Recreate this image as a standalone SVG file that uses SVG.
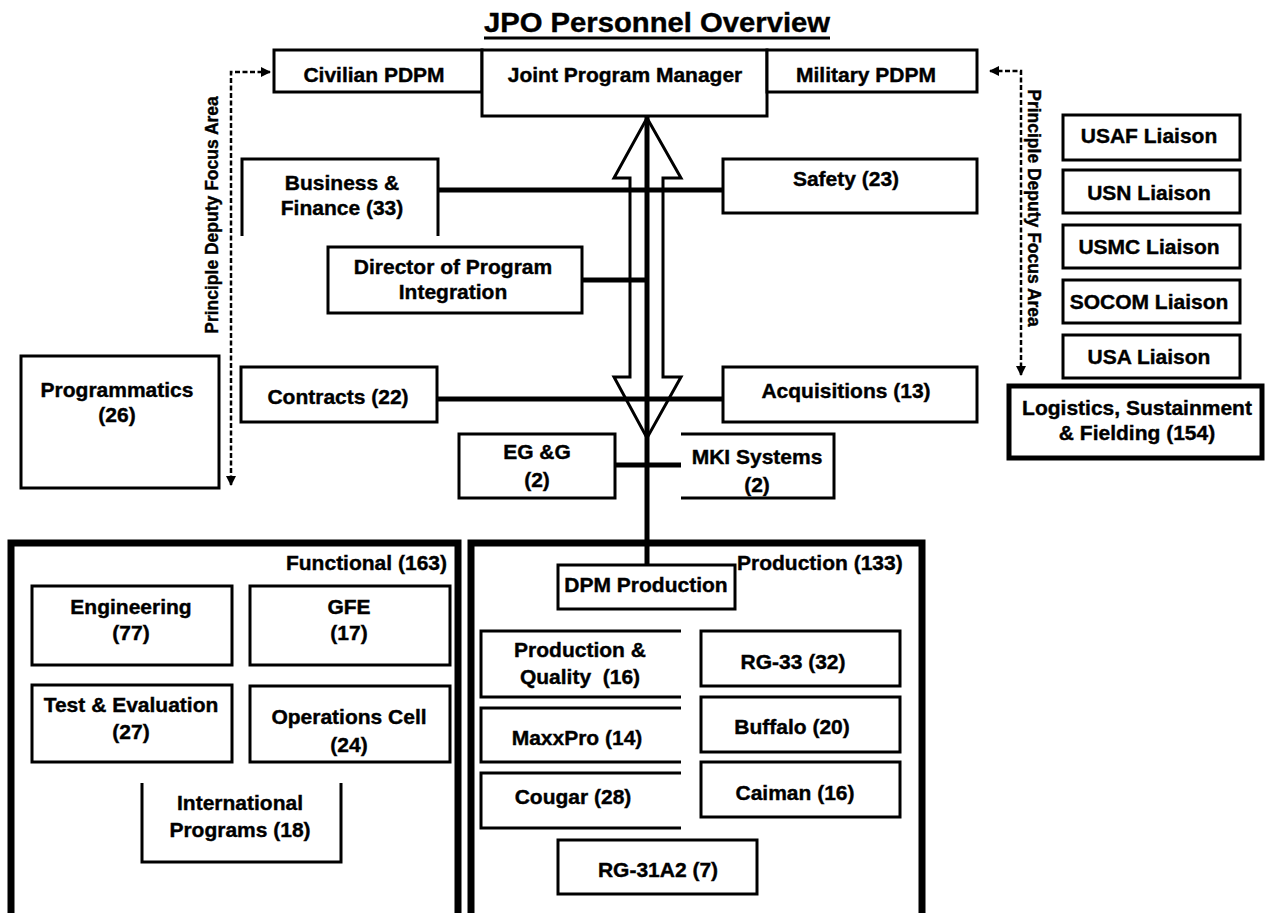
<svg xmlns="http://www.w3.org/2000/svg" width="1266" height="913" viewBox="0 0 1266 913">
<style>
.box{fill:#fff;stroke:#000;stroke-width:3}
.open{fill:none;stroke:#000;stroke-width:3}
.thick{fill:none;stroke:#000;stroke-width:7}
.conn{fill:none;stroke:#000;stroke-width:5}
.dash{fill:none;stroke:#000;stroke-width:2.5;stroke-dasharray:5 2.5}
.t{font-family:"Liberation Sans",Arial,sans-serif;font-weight:bold;font-size:21px;text-anchor:middle;fill:#000;stroke:#000;stroke-width:0.4}
.s{font-size:17.5px}
</style>
<defs>
<marker id="ah" viewBox="0 0 10 10" refX="9" refY="5" markerWidth="4" markerHeight="4" orient="auto-start-reverse" markerUnits="strokeWidth">
<path d="M0,0 L10,5 L0,10 z" fill="#000"/>
</marker>
</defs>
<rect width="1266" height="913" fill="#fff"/>

<g id="title">
<text class="t" x="657" y="32" textLength="346" lengthAdjust="spacingAndGlyphs" style="font-size:28px">JPO Personnel Overview</text>
<line x1="484" y1="38" x2="830" y2="38" stroke="#000" stroke-width="3"/>
</g>

<g id="connectors">
<line class="conn" x1="647" y1="116" x2="647" y2="566"/>
<line class="conn" x1="438" y1="190" x2="723" y2="190"/>
<line class="conn" x1="582" y1="280" x2="647" y2="280"/>
<line class="conn" x1="437" y1="399" x2="723" y2="399"/>
<line class="conn" x1="615" y1="465" x2="681" y2="465"/>
<polygon points="647,118 681,178 663,178 663,377 681,377 647,438 614,377 630,377 630,178 614,178" fill="none" stroke="#000" stroke-width="3"/>
<path class="dash" d="M270,72 H231 V485" marker-start="url(#ah)" marker-end="url(#ah)"/>
<path class="dash" d="M990,71 H1021 V375" marker-start="url(#ah)" marker-end="url(#ah)"/>
</g>

<g id="focus-left"><text class="t s" transform="translate(218,215) rotate(-90)">Principle Deputy Focus Area</text></g>
<g id="focus-right"><text class="t s" transform="translate(1028,208) rotate(90)">Principle Deputy Focus Area</text></g>

<g id="civilian"><rect class="box" x="274" y="50" width="208" height="42"/><text class="t" x="374" y="82">Civilian PDPM</text></g>
<g id="jpm"><rect class="box" x="482" y="50" width="285" height="66"/><text class="t" x="625" y="82">Joint Program Manager</text></g>
<g id="military"><rect class="box" x="767" y="50" width="210" height="42"/><text class="t" x="866" y="82">Military PDPM</text></g>

<g id="business"><path class="open" d="M242,236 V159 H438 V236"/><text class="t" x="342" y="190">Business &amp;</text><text class="t" x="342" y="215">Finance (33)</text></g>
<g id="safety"><rect class="box" x="723" y="159" width="254" height="54"/><text class="t" x="846" y="186">Safety (23)</text></g>
<g id="director"><rect class="box" x="328" y="247" width="254" height="66"/><text class="t" x="453" y="274">Director of Program</text><text class="t" x="453" y="299">Integration</text></g>
<g id="programmatics"><rect class="box" x="21" y="356" width="198" height="132"/><text class="t" x="117" y="397">Programmatics</text><text class="t" x="117" y="422">(26)</text></g>
<g id="contracts"><rect class="box" x="241" y="367" width="196" height="55"/><text class="t" x="338" y="404">Contracts (22)</text></g>
<g id="acquisitions"><rect class="box" x="723" y="367" width="254" height="55"/><text class="t" x="846" y="398">Acquisitions (13)</text></g>
<g id="egg"><rect class="box" x="459" y="434" width="156" height="64"/><text class="t" x="537" y="459">EG &amp;G</text><text class="t" x="537" y="487">(2)</text></g>
<g id="mki"><path class="open" d="M681,434 H834 V498 H681"/><text class="t" x="757" y="464">MKI Systems</text><text class="t" x="757" y="492">(2)</text></g>

<g id="usaf"><rect class="box" x="1063" y="115" width="177" height="45"/><text class="t" x="1149" y="143">USAF Liaison</text></g>
<g id="usn"><rect class="box" x="1063" y="170" width="177" height="43"/><text class="t" x="1149" y="200">USN Liaison</text></g>
<g id="usmc"><rect class="box" x="1063" y="225" width="177" height="43"/><text class="t" x="1149" y="254">USMC Liaison</text></g>
<g id="socom"><rect class="box" x="1063" y="280" width="177" height="43"/><text class="t" x="1149" y="309">SOCOM Liaison</text></g>
<g id="usa"><rect class="box" x="1063" y="335" width="177" height="43"/><text class="t" x="1149" y="364">USA Liaison</text></g>
<g id="logistics"><rect x="1009" y="386" width="253" height="72" fill="#fff" stroke="#000" stroke-width="5"/><text class="t" x="1137" y="415">Logistics, Sustainment</text><text class="t" x="1137" y="440">&amp; Fielding (154)</text></g>

<g id="functional"><path class="thick" d="M11,920 V543 H458 V920"/><text class="t" x="447" y="570" style="text-anchor:end">Functional (163)</text></g>
<g id="engineering"><rect class="box" x="32" y="586" width="200" height="79"/><text class="t" x="131" y="614">Engineering</text><text class="t" x="131" y="640">(77)</text></g>
<g id="gfe"><rect class="box" x="250" y="586" width="200" height="79"/><text class="t" x="349" y="614">GFE</text><text class="t" x="349" y="640">(17)</text></g>
<g id="test-eval"><rect class="box" x="32" y="685" width="200" height="77"/><text class="t" x="131" y="712">Test &amp; Evaluation</text><text class="t" x="131" y="739">(27)</text></g>
<g id="ops-cell"><rect class="box" x="250" y="686" width="200" height="76"/><text class="t" x="349" y="724">Operations Cell</text><text class="t" x="349" y="752">(24)</text></g>
<g id="international"><path class="open" d="M142,783 V862 H341 V783"/><text class="t" x="240" y="810">International</text><text class="t" x="240" y="837">Programs (18)</text></g>

<g id="production"><path class="thick" d="M471,920 V543 H922 V920"/><text class="t" x="737" y="570" style="text-anchor:start">Production (133)</text></g>
<g id="dpm-production"><rect class="box" x="558" y="565" width="177" height="44"/><text class="t" x="646" y="592">DPM Production</text></g>
<g id="prod-quality"><path class="open" d="M681,631 H481 V697 H681"/><text class="t" x="580" y="657">Production &amp;</text><text class="t" x="580" y="684" xml:space="preserve">Quality  (16)</text></g>
<g id="maxxpro"><path class="open" d="M681,708 H481 V762 H681"/><text class="t" x="577" y="745">MaxxPro (14)</text></g>
<g id="cougar"><path class="open" d="M681,773 H481 V828 H681"/><text class="t" x="573" y="804">Cougar (28)</text></g>
<g id="rg33"><rect class="box" x="701" y="631" width="199" height="55"/><text class="t" x="793" y="669">RG-33 (32)</text></g>
<g id="buffalo"><rect class="box" x="701" y="697" width="199" height="55"/><text class="t" x="792" y="734">Buffalo (20)</text></g>
<g id="caiman"><rect class="box" x="701" y="762" width="199" height="55"/><text class="t" x="795" y="800">Caiman (16)</text></g>
<g id="rg31a2"><rect class="box" x="558" y="840" width="199" height="54"/><text class="t" x="658" y="877">RG-31A2 (7)</text></g>
</svg>
